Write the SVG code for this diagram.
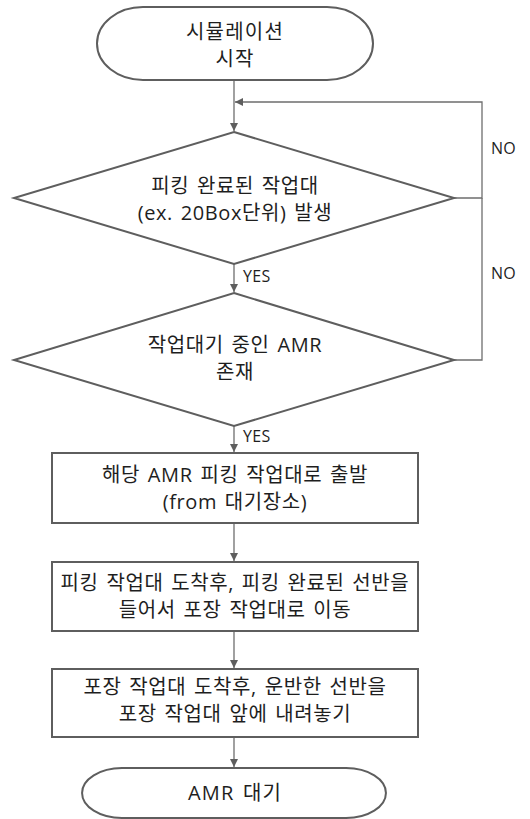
<svg xmlns="http://www.w3.org/2000/svg" width="530" height="819" viewBox="0 0 530 819">
<style>
.shape{fill:#ffffff;stroke:#5e5e5e;stroke-width:2}
.conn{fill:none;stroke:#6e6e6e;stroke-width:1.3}
.t{font-family:"Open Sans","Noto Sans CJK KR",sans-serif;font-size:20px;fill:#1e1e1e;text-anchor:middle;letter-spacing:0.6px;word-spacing:2px}
.tt{font-family:"Open Sans","Noto Sans CJK KR",sans-serif;font-size:20px;fill:#1e1e1e;text-anchor:middle;letter-spacing:1.2px;word-spacing:2px}
.lbl{font-family:"Open Sans","Noto Sans CJK KR",sans-serif;font-size:16px;fill:#1e1e1e;letter-spacing:0.3px}
</style>
<defs>
<marker id="arr" viewBox="0 0 10 10" refX="10" refY="5" markerWidth="8" markerHeight="8" markerUnits="userSpaceOnUse" orient="auto">
<path d="M0,0 L10,5 L0,10 Z" fill="#5e5e5e"/>
</marker>
</defs>
<rect width="530" height="819" fill="#ffffff"/>
<g id="connectors">
<line class="conn" x1="234" y1="80" x2="234" y2="131" marker-end="url(#arr)"/>
<polyline class="conn" points="454,198 482,198 482,102 235,102" marker-end="url(#arr)"/>
<polyline class="conn" points="454,360 482,360 482,198"/>
<line class="conn" x1="234" y1="264" x2="234" y2="292" marker-end="url(#arr)"/>
<line class="conn" x1="234" y1="426" x2="234" y2="452" marker-end="url(#arr)"/>
<line class="conn" x1="234" y1="523" x2="234" y2="561" marker-end="url(#arr)"/>
<line class="conn" x1="234" y1="631" x2="234" y2="668" marker-end="url(#arr)"/>
<line class="conn" x1="234" y1="737" x2="234" y2="767" marker-end="url(#arr)"/>
<text class="lbl" x="491" y="154">NO</text>
<text class="lbl" x="491" y="279">NO</text>
<text class="lbl" x="243" y="282">YES</text>
<text class="lbl" x="243" y="442">YES</text>
</g>
<g id="start">
<path class="shape" d="M143,7 H327 A46,36.5 0 0 1 327,80 H143 A46,36.5 0 0 1 143,7 Z"/>
<text class="tt" x="235" y="39">시뮬레이션</text>
<text class="tt" x="235" y="66">시작</text>
</g>
<g id="decision1">
<polygon class="shape" points="234,132 454,198 234,264 14,198"/>
<text class="t" x="235" y="193">피킹 완료된 작업대</text>
<text class="t" x="235" y="220">(ex. 20Box단위) 발생</text>
</g>
<g id="decision2">
<polygon class="shape" points="234,293 454,360 234,426 14,360"/>
<text class="t" x="235" y="352">작업대기 중인 AMR</text>
<text class="t" x="235" y="379">존재</text>
</g>
<g id="step1">
<rect class="shape" x="52" y="453" width="366" height="70"/>
<text class="t" x="235" y="482">해당 AMR 피킹 작업대로 출발</text>
<text class="t" x="235" y="509">(from 대기장소)</text>
</g>
<g id="step2">
<rect class="shape" x="52" y="562" width="366" height="69"/>
<text class="t" x="235" y="590">피킹 작업대 도착후, 피킹 완료된 선반을</text>
<text class="t" x="235" y="617">들어서 포장 작업대로 이동</text>
</g>
<g id="step3">
<rect class="shape" x="52" y="669" width="366" height="68"/>
<text class="t" x="235" y="694">포장 작업대 도착후, 운반한 선반을</text>
<text class="t" x="235" y="721">포장 작업대 앞에 내려놓기</text>
</g>
<g id="end">
<path class="shape" d="M122,768 H346 A40,25 0 0 1 346,818 H122 A40,25 0 0 1 122,768 Z"/>
<text class="tt" x="235" y="800">AMR 대기</text>
</g>
</svg>
